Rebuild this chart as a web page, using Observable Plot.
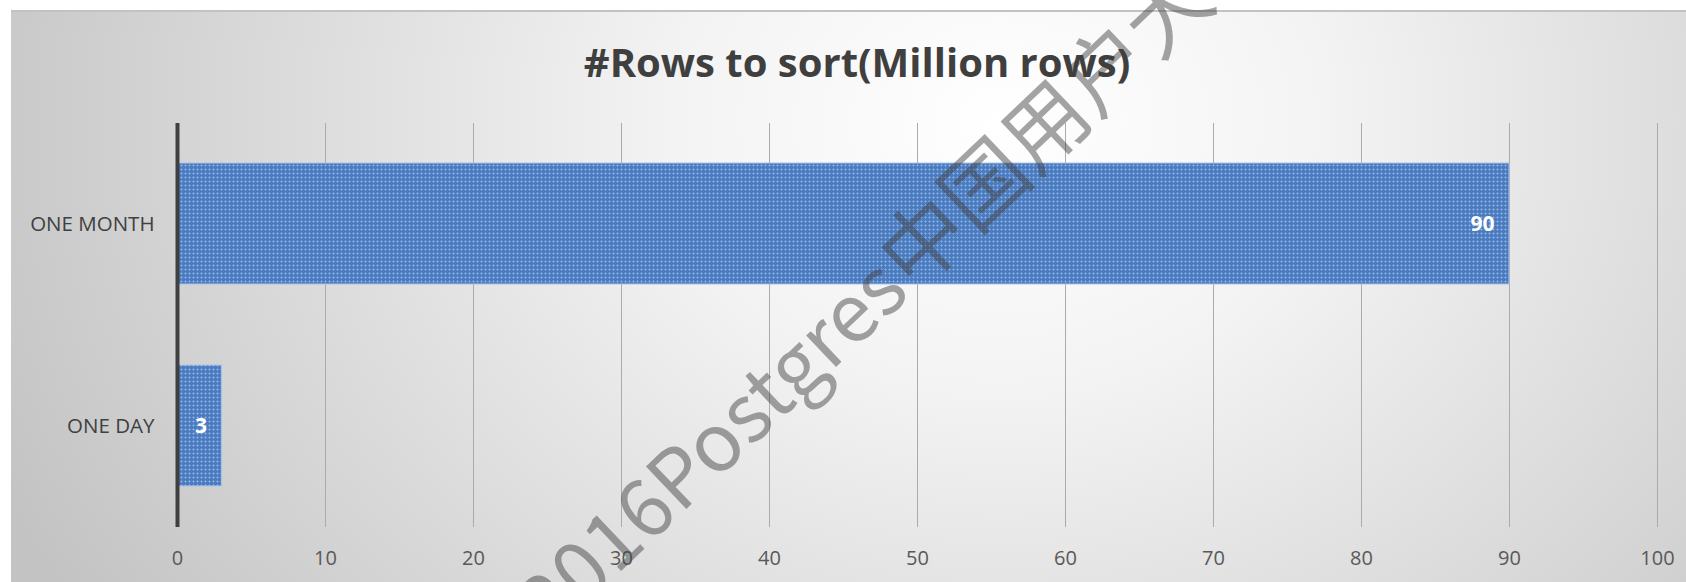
<!DOCTYPE html>
<html>
<head>
<meta charset="utf-8">
<script src="https://cdn.jsdelivr.net/npm/d3@7"></script>
<script src="https://cdn.jsdelivr.net/npm/@observablehq/plot@0.6"></script>
<style>
html, body { margin: 0; padding: 0; background: #ffffff; overflow: hidden; }
#wrap { position: relative; width: 1686px; height: 582px; font-family: "Open Sans", sans-serif; }
#bg { position: absolute; left: 11px; top: 10px; right: 0; bottom: 0;
  border-top: 2px solid #c2c2c2;
  background: radial-gradient(ellipse 1100px 900px at 990px 110px, #ffffff 0%, #f3f3f3 30%, #c3c3c3 100%); }
#title { position: absolute; left: 357px; width: 1000px; top: 42px; text-align: center;
  font-weight: 700; font-size: 40px; line-height: 40px; color: #3f3f3f; white-space: nowrap; }
#chart { position: absolute; left: 0; top: 0; }
#wm { position: absolute; left: 0; top: 0; pointer-events: none; }
</style>
</head>
<body>
<svg width="0" height="0" style="position:absolute">
  <defs>
    <pattern id="barPattern" width="4" height="4" patternUnits="userSpaceOnUse">
      <rect width="4" height="4" fill="#4b7cc0"/>
      <rect x="0" y="1" width="3" height="1" fill="#6f98d3"/>
      <rect x="1" y="0" width="1" height="3" fill="#6f98d3"/>
      <rect x="1" y="1" width="1" height="1" fill="#93b5e6"/>
    </pattern>
  </defs>
</svg>
<div id="wrap">
  <div id="bg"></div>
  <div id="title"></div>
  <div id="chart"></div>
</div>
<script>
// ---- data ----
const title = "#Rows to sort(Million rows)";
const categories = ["ONE MONTH", "ONE DAY"];
const values = [90, 3];
const xTicks = [0, 10, 20, 30, 40, 50, 60, 70, 80, 90, 100];
const watermarkLatin = "2016Postgres";
const watermarkCJK = "中国用户大会";

const data = categories.map((c, i) => ({category: c, value: values[i]}));

document.getElementById("title").textContent = title;

const chart = Plot.plot({
  width: 1686,
  height: 582,
  marginLeft: 177,
  marginRight: 29,
  marginTop: 123,
  marginBottom: 55,
  style: {background: "transparent", fontFamily: "'Open Sans', sans-serif", overflow: "visible"},
  x: {domain: [0, 100]},
  y: {domain: categories, paddingInner: 0.4, paddingOuter: 0.2},
  marks: [
    Plot.ruleX(xTicks.filter(t => t > 0), {stroke: "#ababab", strokeWidth: 1}),
    Plot.barX(data, {x: "value", y: "category", fill: "url(#barPattern)", stroke: "#a9c3e8", strokeWidth: 1}),
    Plot.ruleX([0], {stroke: "#404040", strokeWidth: 4}),
    Plot.text(data, {x: "value", y: "category", text: d => String(d.value), textAnchor: "end", dx: -15,
      fill: "#ffffff", fontWeight: "bold", fontSize: 21}),
    Plot.axisX({ticks: xTicks, tickSize: 0, tickPadding: 23, fontSize: 20, color: "#595959", label: null}),
    Plot.axisY({tickSize: 0, tickPadding: 23, fontSize: 20.5, color: "#404040", label: null})
  ]
});
document.getElementById("chart").appendChild(chart);

// watermark overlay
const wm = d3.select("#wrap").append("svg").attr("id", "wm").attr("width", 1686).attr("height", 582);
const g = wm.append("g").attr("transform", "translate(914,293) rotate(-43.5)")
  .attr("font-family", "'Noto Sans CJK SC', sans-serif")
  .attr("font-weight", 400).attr("fill", "#404040").attr("fill-opacity", 0.48);
g.append("text").attr("text-anchor", "end").attr("font-size", 80).attr("dx", -3).text(watermarkLatin);
g.append("text").attr("text-anchor", "start").attr("font-size", 84).text(watermarkCJK);
</script>
</body>
</html>
